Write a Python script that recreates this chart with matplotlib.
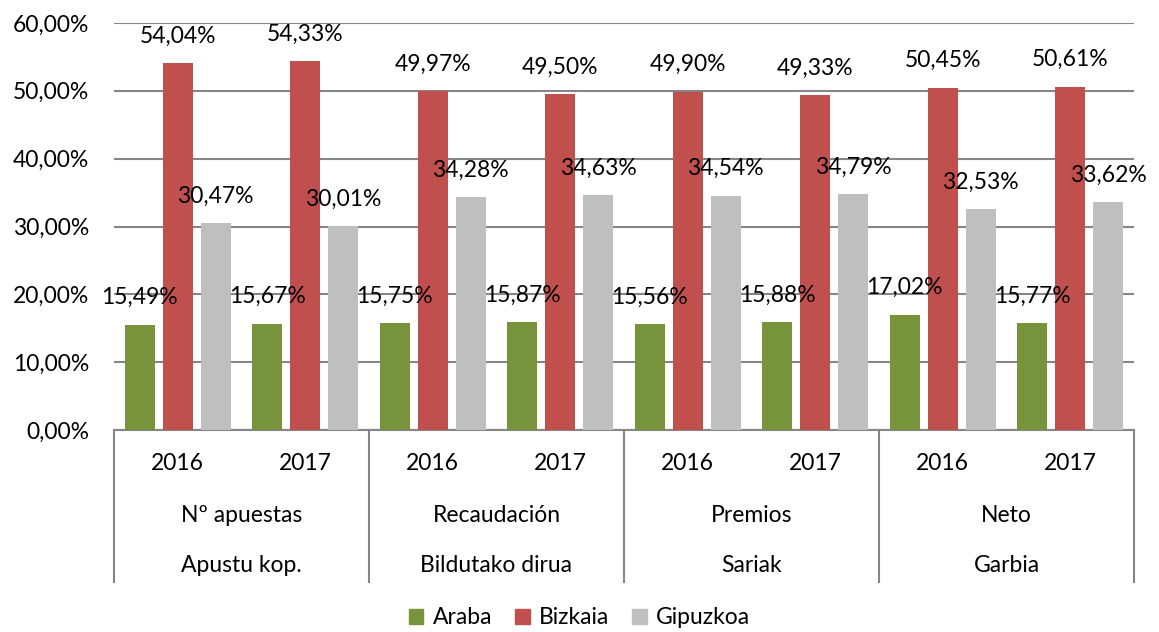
import numpy as np
import matplotlib
matplotlib.use("Agg")
import matplotlib.pyplot as plt
from matplotlib.patches import Patch
from matplotlib.transforms import blended_transform_factory

plt.rcParams['font.family'] = ['Lato', 'DejaVu Sans']

years = ["2016", "2017"]
cats_es = ["Nº apuestas", "Recaudación", "Premios", "Neto"]
cats_eu = ["Apustu kop.", "Bildutako dirua", "Sariak", "Garbia"]
series = ["Araba", "Bizkaia", "Gipuzkoa"]
araba = [15.49, 15.67, 15.75, 15.87, 15.56, 15.88, 17.02, 15.77]
bizkaia = [54.04, 54.33, 49.97, 49.50, 49.90, 49.33, 50.45, 50.61]
gipuzkoa = [30.47, 30.01, 34.28, 34.63, 34.54, 34.79, 32.53, 33.62]
colors = ["#77933C", "#C0504D", "#BFBFBF"]

FS = 16.5

fig = plt.figure(figsize=(11.59, 6.32), dpi=100)
ax = fig.add_axes([114/1159, 1 - 430/632, 1020/1159, 407/632])

x = np.arange(len(araba))
w = 0.235
step = 0.298
for i, (vals, c) in enumerate(zip([araba, bizkaia, gipuzkoa], colors)):
    xs = x + (i - 1) * step
    ax.bar(xs, vals, width=w, color=c, zorder=3)
    for xi, v in zip(xs, vals):
        ax.annotate(f"{v:.2f}%".replace(".", ","), (xi, v), xytext=(0, 19.5),
                    textcoords="offset points", ha="center", va="center",
                    fontsize=FS, zorder=4)

ax.set_xlim(-0.5, len(araba) - 0.5)
ax.set_ylim(0, 60)
ax.set_yticks(np.arange(0, 61, 10))
ax.set_yticklabels([f"{t:.2f}%".replace(".", ",") for t in np.arange(0, 61, 10)], fontsize=FS)
ax.yaxis.grid(True, color="#868686", linewidth=1.5, zorder=0)
ax.tick_params(axis="y", length=0, pad=18)
ax.set_xticks([])
for s in ["top", "right", "left"]:
    ax.spines[s].set_visible(False)
ax.spines["bottom"].set_color("#868686")
ax.spines["bottom"].set_linewidth(1.5)

tr = blended_transform_factory(ax.transData, ax.transAxes)
for xi in x:
    ax.text(xi, -33/407, years[xi % 2], transform=tr, ha="center", va="center", fontsize=FS)
for g in range(len(cats_es)):
    xc = 2 * g + 0.5
    ax.text(xc, -85/407, cats_es[g], transform=tr, ha="center", va="center", fontsize=FS)
    ax.text(xc, -135/407, cats_eu[g], transform=tr, ha="center", va="center", fontsize=FS)
for xb in [-0.5, 1.5, 3.5, 5.5, 7.5]:
    ax.plot([xb, xb], [0, -152/407], transform=tr, color="#868686", linewidth=1.5, clip_on=False)

handles = [Patch(color=c, label=s) for c, s in zip(colors, series)]
fig.legend(handles=handles, loc="center", bbox_to_anchor=(0.5, 1 - 618/632), ncol=3,
           frameon=False, fontsize=FS, handlelength=0.65, handleheight=0.65,
           handletextpad=0.4, columnspacing=1.0)

fig.savefig("out.png", dpi=100)
